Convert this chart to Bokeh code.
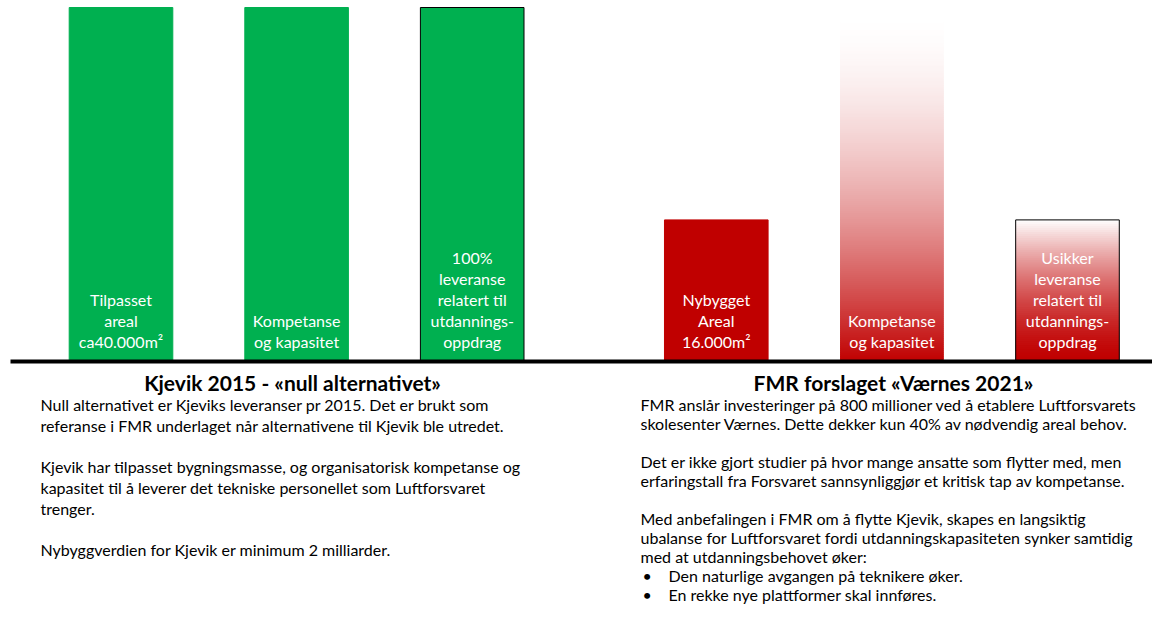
import numpy as np
from bokeh.plotting import figure
from bokeh.models import Range1d, ColumnDataSource
from bokeh.core.properties import value
from bokeh.embed import file_html
from bokeh.resources import INLINE

# ---------------- data ----------------
groups = ["Kjevik", "Kjevik", "Kjevik", "Værnes", "Værnes", "Værnes"]
bar_labels = [
    "Tilpasset\nareal\nca40.000m²",
    "Kompetanse\nog kapasitet",
    "100%\nleveranse\nrelatert til\nutdannings-\noppdrag",
    "Nybygget\nAreal\n16.000m²",
    "Kompetanse\nog kapasitet",
    "Usikker\nleveranse\nrelatert til\nutdannings-\noppdrag",
]
values = [100, 100, 100, 40, 98, 40]

title_left = "Kjevik 2015 - «null alternativet»"
title_right = "FMR forslaget «Værnes 2021»"
body_left = [
    "Null alternativet er Kjeviks leveranser pr 2015. Det er brukt som",
    "referanse i FMR underlaget når alternativene til Kjevik ble utredet.",
    "",
    "Kjevik har tilpasset bygningsmasse, og organisatorisk kompetanse og",
    "kapasitet til å leverer det tekniske personellet som Luftforsvaret",
    "trenger.",
    "",
    "Nybyggverdien for Kjevik er minimum 2 milliarder.",
]
body_right = [
    "FMR anslår investeringer på 800 millioner ved å etablere Luftforsvarets",
    "skolesenter Værnes. Dette dekker kun 40% av nødvendig areal behov.",
    "",
    "Det er ikke gjort studier på hvor mange ansatte som flytter med, men",
    "erfaringstall fra Forsvaret sannsynliggjør et kritisk tap av kompetanse.",
    "",
    "Med anbefalingen i FMR om å flytte Kjevik, skapes en langsiktig",
    "ubalanse for Luftforsvaret fordi utdanningskapasiteten synker samtidig",
    "med at utdanningsbehovet øker:",
]
bullets_right = [
    "Den naturlige avgangen på teknikere øker.",
    "En rekke nye plattformer skal innføres.",
]

# ---------------- styles / layout ----------------
GREEN = "#00B050"
RED = "#C00000"
FONT = value("Lato")
W, H = 1152, 604
PX_PER_X = 175.6
X0 = 120.5           # canvas x of first bar centre
BASE = 361.0         # canvas y of baseline
PX_PER_Y = 3.54
GROUP_GAP = 0.39
BAR_W = 0.59

x_start = -X0 / PX_PER_X
x_end = x_start + W / PX_PER_X
y_end = BASE / PX_PER_Y
y_start = -(H - BASE) / PX_PER_Y


def X(px):
    return (px - X0) / PX_PER_X


def Y(py):
    return (BASE - py) / PX_PER_Y


# x positions derived from order + group changes
xs = []
g_idx = 0
for i, g in enumerate(groups):
    if i > 0 and g != groups[i - 1]:
        g_idx += 1
    xs.append(i + g_idx * GROUP_GAP)

fill_mode = ["solid", "solid", "solid", "solid", "grad_a", "grad_b"]
solid_colors = [GREEN, GREEN, GREEN, RED, None, None]
outlined = [False, False, True, False, False, True]

p = figure(width=W, height=H, output_backend="svg", toolbar_location=None,
           x_range=Range1d(x_start, x_end), y_range=Range1d(y_start, y_end),
           min_border=0, min_border_left=0, min_border_right=0,
           min_border_top=0, min_border_bottom=0)
p.xaxis.visible = False
p.yaxis.visible = False
p.xgrid.visible = False
p.ygrid.visible = False
p.outline_line_color = None
p.background_fill_color = "white"
p.border_fill_color = "white"

# solid bars
solid_idx = [i for i in range(6) if fill_mode[i] == "solid"]
p.vbar(x=[xs[i] for i in solid_idx], top=[values[i] for i in solid_idx], bottom=0,
       width=BAR_W, fill_color=[solid_colors[i] for i in solid_idx],
       line_color=["black" if outlined[i] else solid_colors[i] for i in solid_idx],
       line_width=1)


def grad_colors(n, mode):
    cols = []
    for k in range(n):
        t = (k + 0.5) / n
        if mode == "grad_a":
            w = 1 - (1 - t) ** 1.7
        else:
            w = t ** 1.5
        r = int(round(192 + (255 - 192) * w))
        g = int(round(255 * w))
        b = int(round(255 * w))
        cols.append("#%02x%02x%02x" % (r, g, b))
    return cols


for i in range(6):
    if fill_mode[i].startswith("grad"):
        n = int(values[i] * PX_PER_Y / 2)
        edges = np.linspace(0, values[i], n + 1)
        step = edges[1] - edges[0]
        tops = np.minimum(edges[1:] + step, values[i])
        p.quad(left=xs[i] - BAR_W / 2, right=xs[i] + BAR_W / 2,
               bottom=edges[:-1], top=tops,
               fill_color=grad_colors(n, fill_mode[i]), line_color=None)
        if outlined[i]:
            p.vbar(x=[xs[i]], top=[values[i]], bottom=0, width=BAR_W,
                   fill_alpha=0, line_color="black", line_width=1)

# baseline
p.segment(x0=[X(10)], y0=[0], x1=[x_end], y1=[0], line_color="black", line_width=4)

# bar labels (bottom aligned)
src = ColumnDataSource(dict(x=xs, y=[Y(351)] * 6, t=bar_labels))
p.text(x="x", y="y", text="t", source=src, text_color="white",
       text_font=FONT, text_font_size="16px", text_align="center",
       text_baseline="bottom", text_line_height=1.11)

# titles
p.text(x=[X(292), X(893)], y=[Y(382), Y(382)], text=[title_left, title_right],
       text_font=FONT, text_font_size="21px", text_font_style="bold",
       text_color="black", text_align="center", text_baseline="middle")

# body text
BODY_SIZE = "16px"
LH = 20.7
ly = [Y(404 + k * LH) for k, s in enumerate(body_left) if s]
lt = [s for s in body_left if s]
p.text(x=[X(40)] * len(lt), y=ly, text=lt, text_font=FONT, text_font_size=BODY_SIZE,
       text_color="black", text_align="left", text_baseline="middle")

LH2 = 19.0
ry = [Y(404 + k * LH2) for k, s in enumerate(body_right) if s]
rt = [s for s in body_right if s]
nb = len(body_right)
by = [Y(404 + (nb + k) * LH2) for k in range(len(bullets_right))]
p.text(x=[X(640)] * len(rt), y=ry, text=rt, text_font=FONT, text_font_size=BODY_SIZE,
       text_color="black", text_align="left", text_baseline="middle")
p.text(x=[X(642)] * len(by), y=by, text=["•"] * len(by), text_font=FONT,
       text_font_size=BODY_SIZE, text_color="black", text_align="left", text_baseline="middle")
p.text(x=[X(668)] * len(by), y=by, text=bullets_right, text_font=FONT,
       text_font_size=BODY_SIZE, text_color="black", text_align="left", text_baseline="middle")

open("out.html", "w").write(file_html(p, INLINE))
